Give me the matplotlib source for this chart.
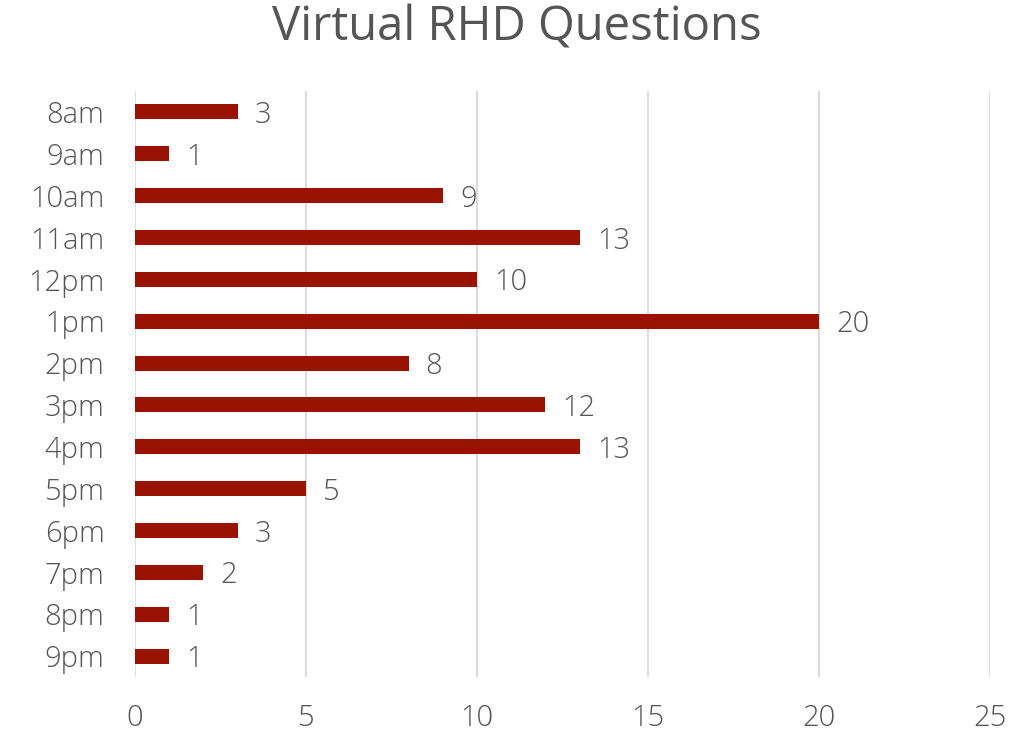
import matplotlib
matplotlib.use("Agg")
from matplotlib import pyplot as plt

# hours of the day, top to bottom
hours = ['8am', '9am', '10am', '11am', '12pm', '1pm', '2pm', '3pm',
         '4pm', '5pm', '6pm', '7pm', '8pm', '9pm']
questions = [3, 1, 9, 13, 10, 20, 8, 12, 13, 5, 3, 2, 1, 1]
xticks = [0, 5, 10, 15, 20, 25]

BAR = '#9a1200'
TXT = '#555555'
plt.rcParams['font.family'] = ['Open Sans', 'DejaVu Sans']
plt.rcParams['font.weight'] = 'light'

fig = plt.figure(figsize=(10.33, 7.32), dpi=100)
ax = fig.add_axes([0.1307, 0.0751, 0.8277, 0.8006])

pos = list(range(len(hours)))
ax.barh(pos, questions, height=0.36, color=BAR, zorder=3)
for p, v in zip(pos, questions):
    ax.text(v + 0.5, p + 0.08, str(v), va='center', ha='left', fontsize=21, color=TXT)

ax.set_ylim(len(hours) - 0.5, -0.5)
ax.set_xlim(0, 25)
ax.set_yticks(pos)
ax.set_yticklabels(hours)
ax.set_xticks(xticks)
ax.tick_params(axis='both', length=0, labelsize=21, colors=TXT)
ax.tick_params(axis='x', pad=19)
ax.tick_params(axis='y', pad=22)
ax.grid(axis='x', color='#d9d9d9', linewidth=1.3, zorder=0)
for s in ax.spines.values():
    s.set_visible(False)

fig.suptitle('Virtual RHD Questions', fontsize=34, color=TXT, y=0.995)
fig.savefig('out.png', dpi=100)
